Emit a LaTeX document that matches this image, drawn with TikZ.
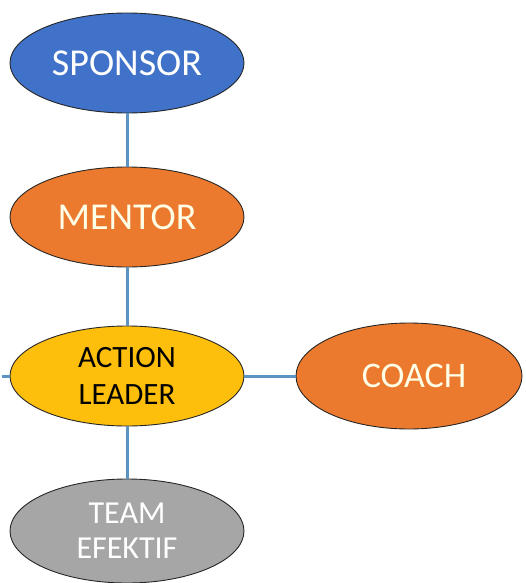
\documentclass[tikz,border=0pt]{standalone}
\usepackage{fontspec}
\setmainfont{Carlito}
\usetikzlibrary{shapes.geometric}
\definecolor{sponsorblue}{HTML}{3F72C8}
\definecolor{mentororange}{HTML}{EC7A2E}
\definecolor{leadergold}{HTML}{FDBE0C}
\definecolor{teamgrey}{HTML}{A6A6A6}
\definecolor{linkblue}{HTML}{5B93C2}
\begin{document}
\begin{tikzpicture}[x=1pt,y=-1pt,
  role/.style={ellipse,draw=black!85,line width=0.9pt,minimum width=234pt,minimum height=100pt,inner sep=0pt,align=center,text=white,font=\fontsize{38}{40}\selectfont},
  link/.style={draw=linkblue,line width=3pt}]
\useasboundingbox (0,0) rectangle (526,583);
\coordinate (stub) at (2,376);
\node[role,fill=sponsorblue] (sponsor) at (127,63) {SPONSOR};
\node[role,fill=mentororange,text=yellow!10] (mentor) at (127,217) {MENTOR};
\node[role,fill=leadergold,text=black,font=\fontsize{31}{37}\selectfont] (leader) at (127,376) {ACTION\\LEADER};
\node[role,fill=mentororange,text=yellow!10,minimum width=226pt,minimum height=106pt,font=\fontsize{36}{38}\selectfont] (coach) at (409,376) {\hspace*{10pt}COACH};
\node[role,fill=teamgrey,minimum height=104pt,font=\fontsize{32}{35}\selectfont] (team) at (127,531) {TEAM\\EFEKTIF};
\draw[link] (sponsor) -- (mentor);
\draw[link] (mentor) -- (leader);
\draw[link] (leader) -- (team);
\draw[link] (leader.east) -- (coach.west);
\draw[link] (stub) -- (leader.west);
\end{tikzpicture}
\end{document}
